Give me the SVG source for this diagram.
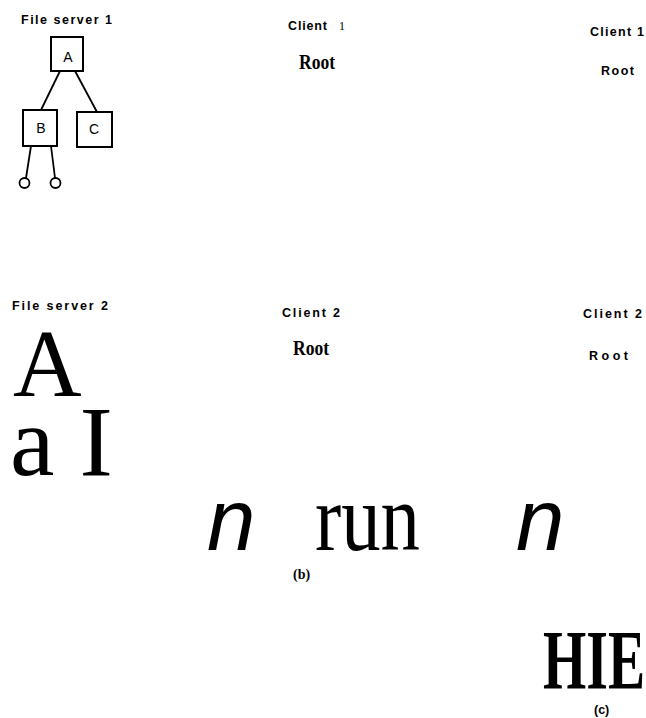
<svg xmlns="http://www.w3.org/2000/svg" width="646" height="718" viewBox="0 0 646 718">
<style>
.lbl{font-family:"Liberation Sans",Arial,sans-serif;font-weight:bold;font-size:12.5px;fill:#000}
.ser{font-family:"Liberation Serif","Times New Roman",serif;fill:#000}
.bx{fill:#fff;stroke:#000;stroke-width:2}
.ln{stroke:#000;stroke-width:1.8;fill:none}
.nd{font-family:"Liberation Sans",Arial,sans-serif;font-size:14px;fill:#000;text-anchor:middle}
</style>
<rect width="646" height="718" fill="#fff"/>
<g id="connectors">
<line class="ln" x1="60" y1="71" x2="41" y2="110"/>
<line class="ln" x1="75" y1="71" x2="97" y2="112"/>
<line class="ln" x1="31" y1="146" x2="26" y2="178"/>
<line class="ln" x1="51" y1="146" x2="55" y2="178"/>
</g>
<g id="nodeA"><rect class="bx" x="51" y="37" width="32" height="34"/><text class="nd" x="68" y="62">A</text></g>
<g id="nodeB"><rect class="bx" x="23" y="110" width="34" height="36"/><text class="nd" x="41" y="133">B</text></g>
<g id="nodeC"><rect class="bx" x="77" y="112" width="35" height="35"/><text class="nd" x="94" y="134">C</text></g>
<g id="leaf1"><circle class="ln" cx="24.5" cy="183" r="5"/></g>
<g id="leaf2"><circle class="ln" cx="55.5" cy="183" r="5"/></g>
<g id="labels">
<text class="lbl" x="21" y="24" font-size="11.5" textLength="91" lengthAdjust="spacing">File server 1</text>
<text class="lbl" x="288" y="30" textLength="39" lengthAdjust="spacing">Client</text>
<text class="ser" x="339" y="30" font-size="12">1</text>
<text class="ser" x="299" y="69" font-size="20" font-weight="bold" textLength="36" lengthAdjust="spacingAndGlyphs">Root</text>
<text class="lbl" x="590" y="36" textLength="54" lengthAdjust="spacing">Client 1</text>
<text class="lbl" x="601" y="75" textLength="33" lengthAdjust="spacing">Root</text>
<text class="lbl" x="12" y="310" font-size="11.5" textLength="96" lengthAdjust="spacing">File server 2</text>
<text class="lbl" x="282" y="317" textLength="58" lengthAdjust="spacing">Client 2</text>
<text class="ser" x="293" y="355" font-size="21" font-weight="bold" textLength="36" lengthAdjust="spacingAndGlyphs">Root</text>
<text class="lbl" x="583" y="318" textLength="59" lengthAdjust="spacing">Client 2</text>
<text class="lbl" x="589" y="360" textLength="39" lengthAdjust="spacing">Root</text>
<text class="ser" x="13" y="396" font-size="95">A</text>
<text class="ser" x="10" y="475" font-size="100">a I</text>
<text x="207" y="550" font-family="Liberation Sans,Arial,sans-serif" font-style="italic" font-size="87">n</text>
<text class="ser" x="315" y="550" font-size="95" textLength="105" lengthAdjust="spacingAndGlyphs">run</text>
<text x="516" y="550" font-family="Liberation Sans,Arial,sans-serif" font-style="italic" font-size="87">n</text>
<text class="ser" x="293" y="579" font-size="14" font-weight="bold">(b)</text>
<text class="ser" x="543" y="689" font-size="84" font-weight="bold" textLength="102" lengthAdjust="spacingAndGlyphs">HIE</text>
<text class="lbl" x="594" y="714" font-size="10.5">(c)</text>
</g>
</svg>
